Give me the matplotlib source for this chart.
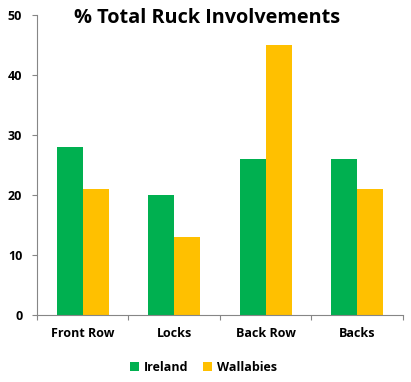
import numpy as np
import matplotlib.pyplot as plt

categories = ["Front Row", "Locks", "Back Row", "Backs"]
ireland = [28, 20, 26, 26]
wallabies = [21, 13, 45, 21]
yticks = [0, 10, 20, 30, 40, 50]

plt.rcParams['font.family'] = ['Open Sans', 'DejaVu Sans']

fig = plt.figure(figsize=(4.11, 3.82), dpi=100)
ax = fig.add_axes([0.09, 0.1754, 0.8905, 0.7853])

x = np.arange(len(categories))
w = 0.285
ax.bar(x - w/2, ireland, w, color="#00B050", label="Ireland")
ax.bar(x + w/2, wallabies, w, color="#FFC000", label="Wallabies")

ax.set_xlim(-0.5, len(categories) - 0.5)
ax.set_ylim(0, 50)
ax.set_yticks(yticks)
ax.set_yticklabels([str(v) for v in yticks], fontweight="bold", fontsize=9)

# category labels, tick marks at the boundaries
ax.set_xticks(np.arange(-0.5, len(categories)), minor=False)
ax.set_xticklabels([])
ax.set_xticks(x, minor=True)
ax.set_xticklabels(categories, minor=True, fontweight="bold", fontsize=9)
ax.tick_params(axis="x", which="minor", length=0, pad=9)
ax.tick_params(axis="x", which="major", length=3.6, color="#868686")
ax.tick_params(axis="y", length=3.6, color="#868686", pad=7)

for s in ["top", "right"]:
    ax.spines[s].set_visible(False)
for s in ["left", "bottom"]:
    ax.spines[s].set_color("#868686")

fig.text(0.505, 0.952, "% Total Ruck Involvements", ha="center", va="center",
         fontsize=14.3, fontweight="bold")

fig.legend(loc="center", bbox_to_anchor=(0.495, 0.038), ncol=2, frameon=False,
           handlelength=0.7, handleheight=0.7, handletextpad=0.4, columnspacing=1.2,
           prop={"weight": "bold", "size": 9})

fig.savefig("out.png", dpi=100)
